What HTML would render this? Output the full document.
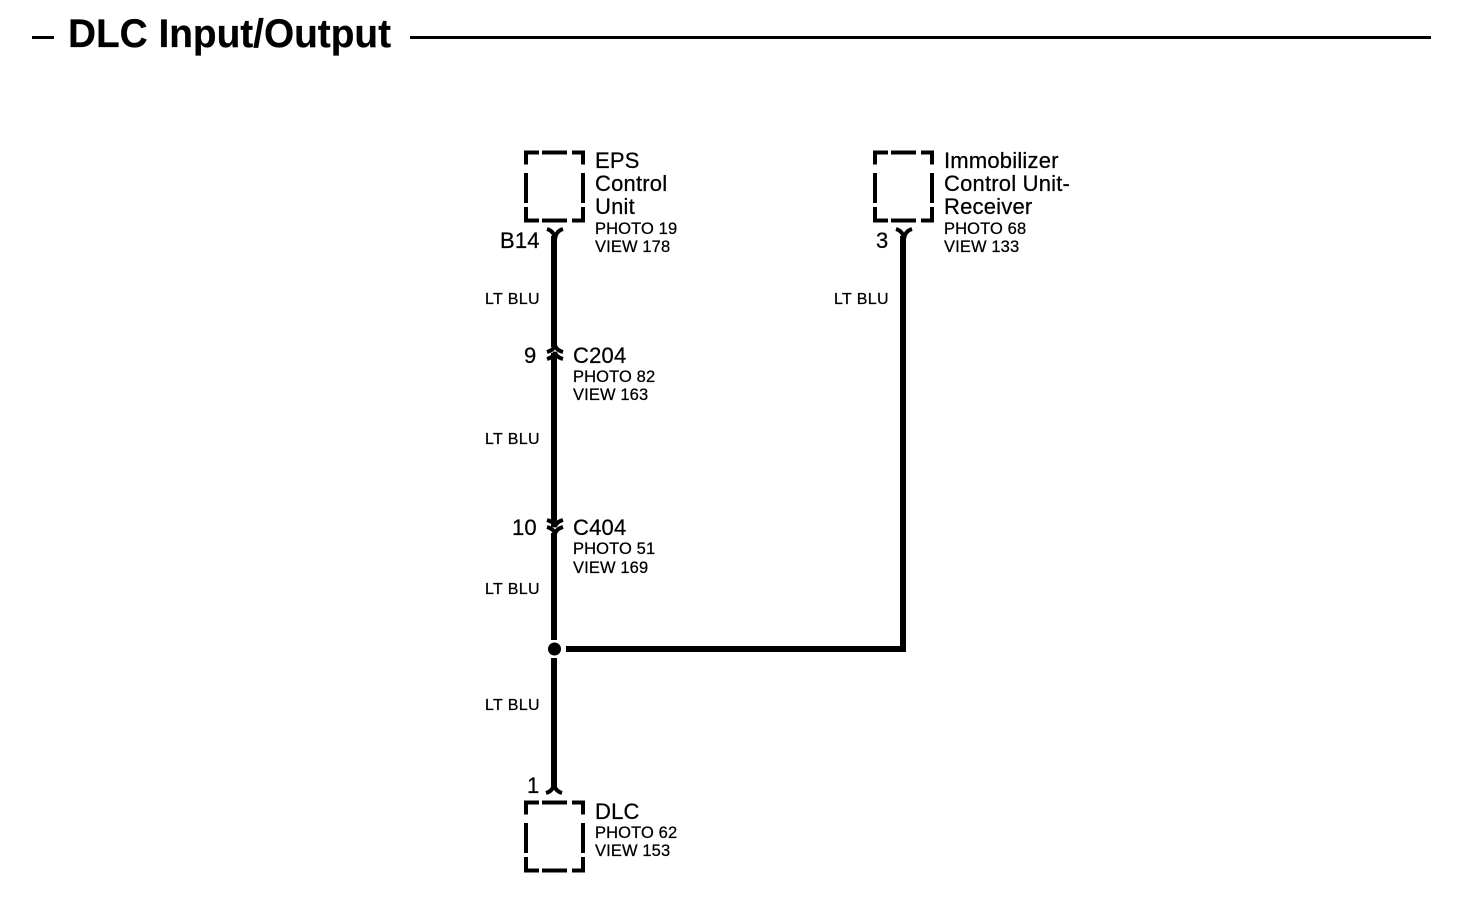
<!DOCTYPE html>
<html><head><meta charset="utf-8"><style>
html,body{margin:0;padding:0;background:#fff}
svg{display:block}
text{font-family:"Liberation Sans",Arial,sans-serif;fill:#000;stroke:#000;stroke-width:.25px}
.l{font-size:22px;letter-spacing:.2px}.s{font-size:16.5px;letter-spacing:.12px}.w{font-size:16px;letter-spacing:.35px}
</style></head><body>
<svg width="1472" height="904" viewBox="0 0 1472 904" xmlns="http://www.w3.org/2000/svg">
<defs>
<g id="box" fill="#000">
<rect x="524" y="150.5" width="15" height="4"/><rect x="542" y="150.5" width="25" height="4"/><rect x="572" y="150.5" width="13" height="4"/>
<rect x="524" y="218.5" width="15" height="4"/><rect x="542" y="218.5" width="25" height="4"/><rect x="572" y="218.5" width="13" height="4"/>
<rect x="524" y="150.5" width="4" height="14"/><rect x="524" y="173" width="4" height="30"/><rect x="524" y="207" width="4" height="15.5"/>
<rect x="581" y="150.5" width="4" height="14"/><rect x="581" y="173" width="4" height="30"/><rect x="581" y="207" width="4" height="15.5"/>
</g>
</defs>
<rect width="1472" height="904" fill="#fff"/>
<rect x="32" y="36" width="22" height="3"/>
<rect x="410" y="36" width="1021" height="3"/>
<text x="68" y="47" font-size="40" font-weight="bold" textLength="323" lengthAdjust="spacingAndGlyphs">DLC Input/Output</text>

<use href="#box"/>
<use href="#box" x="349"/>
<use href="#box" y="650"/>

<g stroke="#000" stroke-width="6" fill="none">
<path d="M554 236V347M554 353V527M554 533V640M554 658V788"/>
<path d="M903 236V652M566 649H906"/>
</g>
<circle cx="554.5" cy="649" r="6.5"/>
<g stroke="#000" stroke-width="4" fill="none">
<path d="M547 229Q554 231 555 239Q556 231 563 229"/>
<path d="M896 229Q903 231 904 239Q905 231 912 229"/>
<path d="M546 793Q553 791 554 784Q555 791 562 793"/>
<path d="M547 352Q554 350 555 345Q556 350 563 352"/>
<path d="M547 359Q554 357 555 352Q556 357 563 359"/>
<path d="M547 520Q554 522 555 527Q556 522 563 520"/>
<path d="M547 527Q554 529 555 534Q556 529 563 527"/>
</g>

<text class="l" x="595" y="168">EPS</text>
<text class="l" x="595" y="191">Control</text>
<text class="l" x="595" y="214">Unit</text>
<text class="s" x="595" y="234">PHOTO 19</text>
<text class="s" x="595" y="252">VIEW 178</text>
<text class="l" x="500" y="248">B14</text>

<text class="l" x="944" y="168">Immobilizer</text>
<text class="l" x="944" y="191">Control Unit-</text>
<text class="l" x="944" y="214">Receiver</text>
<text class="s" x="944" y="234">PHOTO 68</text>
<text class="s" x="944" y="252">VIEW 133</text>
<text class="l" x="876" y="248">3</text>

<text class="w" x="485" y="304">LT BLU</text>
<text class="w" x="834" y="304">LT BLU</text>
<text class="w" x="485" y="444">LT BLU</text>
<text class="w" x="485" y="594">LT BLU</text>
<text class="w" x="485" y="710">LT BLU</text>

<text class="l" x="524" y="363">9</text>
<text class="l" x="573" y="363">C204</text>
<text class="s" x="573" y="382">PHOTO 82</text>
<text class="s" x="573" y="400">VIEW 163</text>

<text class="l" x="512" y="535">10</text>
<text class="l" x="573" y="535">C404</text>
<text class="s" x="573" y="554">PHOTO 51</text>
<text class="s" x="573" y="573">VIEW 169</text>

<text class="l" x="527" y="793">1</text>
<text class="l" x="595" y="819">DLC</text>
<text class="s" x="595" y="838">PHOTO 62</text>
<text class="s" x="595" y="856">VIEW 153</text>
</svg>
</body></html>
